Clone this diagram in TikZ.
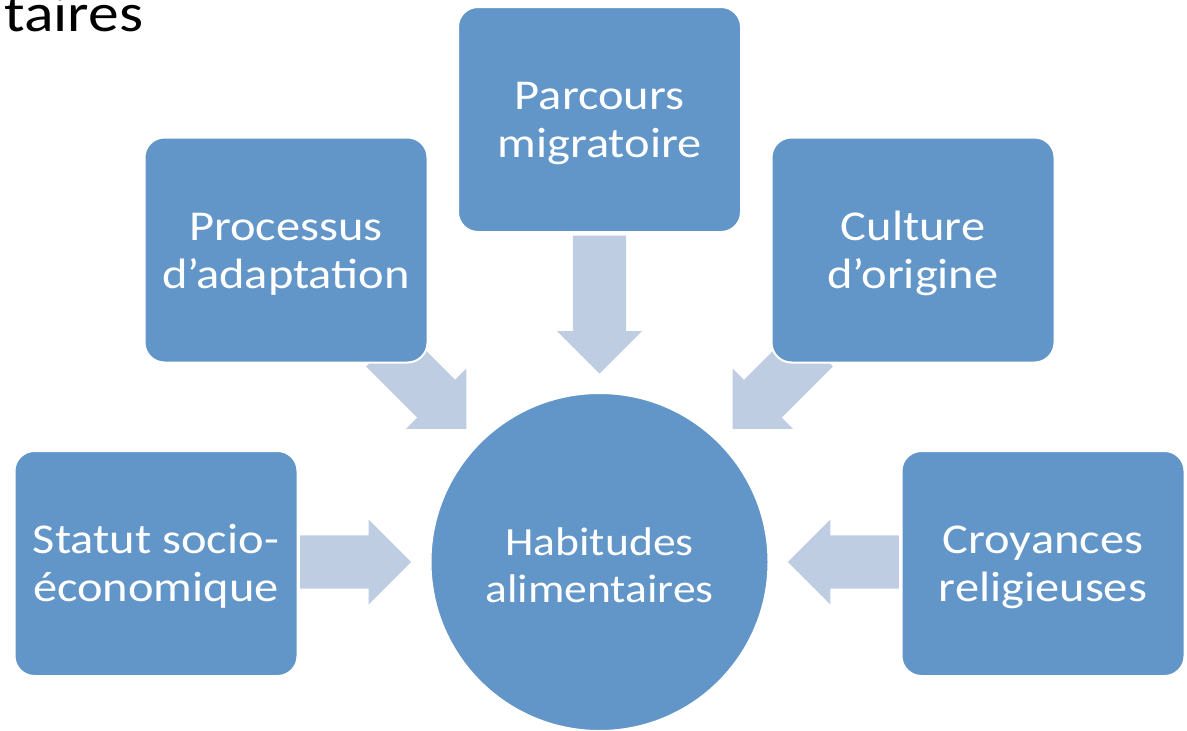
\documentclass[tikz,border=0pt]{standalone}
\usepackage{fontspec}
\newfontfamily\slidefont[FakeStretch=1.14]{Carlito}
\usetikzlibrary{positioning,shapes.arrows,calc,backgrounds}
\definecolor{boxblue}{RGB}{98,150,201}
\definecolor{arrowblue}{RGB}{191,205,227}
\tikzset{factor/.style={rectangle, rounded corners=20pt, fill=boxblue, draw=white, line width=2pt,
        minimum width=283pt, minimum height=225pt, align=center, text=white,
        font=\slidefont\fontsize{42.5}{48}\selectfont, text height=86pt, text depth=10pt},
    push/.style={single arrow, fill=arrowblue, draw=none, inner sep=0pt, inner ysep=26.5pt,
        minimum width=85pt, single arrow head extend=16pt, single arrow tip angle=90, anchor=tip}
}

\begin{document}
\begin{tikzpicture}[x=1pt, y=-1pt]
    \useasboundingbox (0,0) rectangle (1187,731);
    \node[anchor=base west, inner sep=0pt, font=\slidefont\fontsize{54}{60}\selectfont] (titre) at (4,31) {taires};

    \node[factor](parcours) at (599.5, 119.5) {Parcours\\migratoire};
    \node[factor](processus) at (286, 250) {Processus\\d’adaptation};
    \node[factor](culture) at (913, 250) {Culture\\d’origine};
    \node[factor](statut) at (156, 563.5) {Statut socio-\\économique};
    \node[factor](croyances) at (1043, 563.5) {Croyances\\religieuses};

    \node[circle, fill=boxblue, draw=white, line width=2pt, minimum size=338pt, align=center, text=white,
        font=\slidefont\fontsize{40}{47}\selectfont, text height=90pt, text depth=10pt](habitudes) at (599.5, 562) {Habitudes\\alimentaires};

    % arrows behind the boxes
    \begin{scope}[on background layer]
        \node[push, minimum height=138pt, rotate=-90](fleche1) at ($(habitudes.north)!-18pt!(habitudes)$) {};
        \node[push, minimum height=115pt, rotate=-45](fleche2) at ($(habitudes.north west)!-18pt!(habitudes)$) {};
        \node[push, minimum height=115pt, rotate=-135](fleche3) at ($(habitudes.north east)!-18pt!(habitudes)$) {};
        \node[push, minimum height=111pt](fleche4) at ($(habitudes.west)!-18pt!(habitudes)$) {};
        \node[push, minimum height=111pt, rotate=180](fleche5) at ($(habitudes.east)!-18pt!(habitudes)$) {};
    \end{scope}
\end{tikzpicture}
\end{document}
